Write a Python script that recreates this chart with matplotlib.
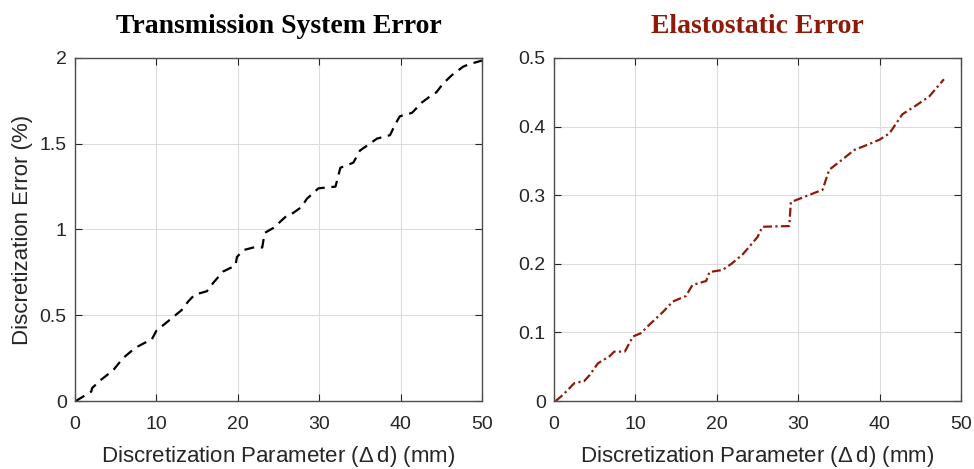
import matplotlib
matplotlib.use("Agg")
import matplotlib.pyplot as plt

# Transmission system error (%)
x_ts = [0.1, 2.0, 2.1, 3.1, 4.7, 5.9, 7.4, 8.6, 9.4, 10.0, 11.3, 13.1, 13.9, 14.7, 16.2, 17.0,
        18.2, 19.7, 19.9, 20.7, 21.9, 23.0, 23.3, 24.4, 26.0, 26.6, 27.8, 28.5, 29.9, 32.0,
        32.6, 34.2, 35.0, 37.1, 38.7, 39.3, 39.9, 41.4, 42.6, 44.0, 44.4, 45.2, 46.3, 47.7,
        48.5, 50.0]
y_ts = [0.0, 0.055, 0.075, 0.12, 0.18, 0.25, 0.31, 0.34, 0.356, 0.41, 0.46, 0.53, 0.58, 0.62,
        0.64, 0.69, 0.755, 0.79, 0.84, 0.88, 0.895, 0.895, 0.98, 1.01, 1.08, 1.09, 1.13, 1.18,
        1.24, 1.25, 1.36, 1.39, 1.46, 1.53, 1.55, 1.61, 1.66, 1.68, 1.74, 1.79, 1.80, 1.85,
        1.90, 1.95, 1.965, 1.985]

# Elastostatic error
x_el = [0.2, 1.1, 2.5, 3.7, 4.4, 5.4, 6.8, 7.4, 8.7, 9.7, 10.7, 11.7, 13.4, 14.6, 16.2, 17.0,
        18.7, 19.1, 20.7, 21.8, 23.2, 24.0, 25.0, 25.6, 28.9, 29.1, 30.2, 33.0, 33.8, 35.1,
        36.9, 38.4, 40.0, 41.2, 42.8, 44.5, 46.1, 47.9]
y_el = [0.0, 0.009, 0.026, 0.029, 0.038, 0.055, 0.065, 0.072, 0.072, 0.094, 0.099, 0.111,
        0.130, 0.145, 0.153, 0.169, 0.175, 0.188, 0.191, 0.200, 0.214, 0.225, 0.239, 0.254,
        0.255, 0.290, 0.295, 0.308, 0.337, 0.349, 0.366, 0.373, 0.381, 0.390, 0.418, 0.431,
        0.444, 0.469]

titles = ["Transmission System Error", "Elastostatic Error"]
xlabel = "Discretization Parameter ($\\Delta\\,$d) (mm)"
ylabel = "Discretization Error (%)"
xticks = [0, 10, 20, 30, 40, 50]
yticks_ts = [0, 0.5, 1, 1.5, 2]
ytick_labels_ts = ["0", "0.5", "1", "1.5", "2"]
yticks_el = [0, 0.1, 0.2, 0.3, 0.4, 0.5]
ytick_labels_el = ["0", "0.1", "0.2", "0.3", "0.4", "0.5"]

red = "#8f1a0a"
plt.rcParams["font.family"] = ["Liberation Sans", "DejaVu Sans"]
plt.rcParams["mathtext.fontset"] = "custom"
plt.rcParams["mathtext.rm"] = "Liberation Sans"

fig = plt.figure(figsize=(9.74, 4.69), dpi=100)
W, H = 974, 469
ax1 = fig.add_axes([75 / W, 1 - 401 / H, (482 - 75) / W, (401 - 58) / H])
ax2 = fig.add_axes([554 / W, 1 - 401 / H, (961 - 554) / W, (401 - 58) / H])

ax1.plot(x_ts, y_ts, color="black", linestyle=(0, (4.5, 3)), linewidth=1.6)
ax2.plot(x_el, y_el, color=red, linestyle=(0, (4, 1.5, 1, 1.5)), linewidth=1.6)

for ax, yt, ytl, title, tcol in [(ax1, yticks_ts, ytick_labels_ts, titles[0], "black"),
                                  (ax2, yticks_el, ytick_labels_el, titles[1], red)]:
    ax.set_xlim(0, 50)
    ax.set_ylim(yt[0], yt[-1])
    ax.set_xticks(xticks)
    ax.set_xticklabels([str(v) for v in xticks])
    ax.set_yticks(yt)
    ax.set_yticklabels(ytl)
    ax.grid(True, color="#dcdcdc", linewidth=0.8)
    ax.set_axisbelow(True)
    ax.tick_params(direction="in", top=True, right=True, labelsize=14, length=5,
                   color="#262626", labelcolor="#262626", width=0.8, pad=6)
    ax.tick_params(axis="x", pad=11)
    for s in ax.spines.values():
        s.set_color("#4d4d4d")
        s.set_linewidth(1.0)
    ax.set_xlabel(xlabel, fontsize=16, color="#262626", labelpad=8)
    ax.set_title(title, fontsize=20, fontweight="bold", color=tcol,
                 family=["Liberation Serif", "DejaVu Serif"], pad=18)

ax1.set_ylabel(ylabel, fontsize=16, color="#262626", labelpad=5)

fig.savefig("out.png", dpi=100, facecolor="white")
